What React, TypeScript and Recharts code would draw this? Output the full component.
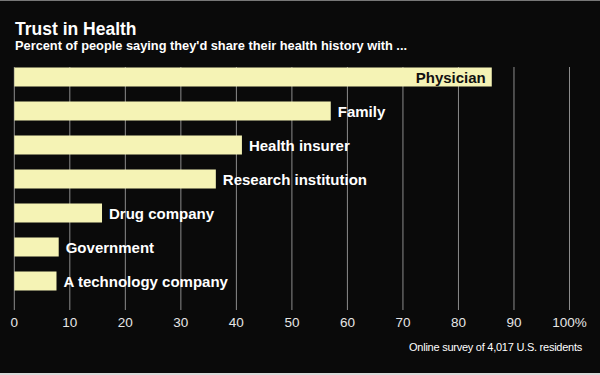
import React from 'react';
import { BarChart, Bar, XAxis, YAxis, CartesianGrid, LabelList } from 'recharts';

const categories = [
  'Physician',
  'Family',
  'Health insurer',
  'Research institution',
  'Drug company',
  'Government',
  'A technology company',
];
const shares = [86, 57, 41, 36.3, 15.8, 8, 7.6];
const xTicks = [0, 10, 20, 30, 40, 50, 60, 70, 80, 90, 100];
const title = 'Trust in Health';
const subtitle = "Percent of people saying they'd share their health history with ...";
const footnote = 'Online survey of 4,017 U.S. residents';

const data = categories.map((name, i) => ({ name, value: shares[i] }));

const FONT = '"Liberation Sans", Arial, Helvetica, sans-serif';
const BG = '#0a0a0a';
const BAR = '#f5f3b5';
const GRID = '#8c8c8c';

const renderGridLine = (props: any) => {
  const { x1, x2, y1, y2, key } = props;
  return (
    <line
      key={key}
      x1={x1}
      x2={x2}
      y1={y1 + 7.5}
      y2={y2 + 12.5}
      stroke={GRID}
      strokeWidth={1}
    />
  );
};

const renderLabel = (props: any) => {
  const { x, y, width, height, index } = props;
  const name = categories[index];
  const inside = shares[index] >= 80;
  return (
    <text
      x={inside ? x + width - 6 : x + width + 7}
      y={y + height / 2}
      dominantBaseline="central"
      textAnchor={inside ? 'end' : 'start'}
      fill={inside ? '#111' : '#ffffff'}
      fontFamily={FONT}
      fontWeight={700}
      fontSize={15}
    >
      {name}
    </text>
  );
};

export default function App() {
  return (
    <div
      style={{
        position: 'absolute',
        left: 0,
        top: 0,
        width: 600,
        height: 375,
        background: BG,
        overflow: 'hidden',
      }}
    >
      <div style={{ position: 'absolute', left: 0, top: 0, width: 600, height: 1, background: '#777' }} />
      <div style={{ position: 'absolute', left: 0, top: 373, width: 600, height: 2, background: '#d9d9d9' }} />
      <BarChart
        width={600}
        height={375}
        data={data}
        layout="vertical"
        margin={{ top: 59.5, right: 30.5, bottom: 47.5, left: 14.3 }}
      >
        <CartesianGrid horizontal={false} vertical={renderGridLine} />
        <XAxis
          type="number"
          domain={[0, 100]}
          ticks={xTicks}
          interval={0}
          height={30}
          axisLine={false}
          tickLine={false}
          tickMargin={14}
          tick={{ fill: '#e6e6e6', fontSize: 13.5, fontFamily: FONT }}
          tickFormatter={(v: number) => (v === 100 ? '100%' : String(v))}
        />
        <YAxis type="category" dataKey="name" hide />
        <Bar dataKey="value" fill={BAR} barSize={19} isAnimationActive={false}>
          <LabelList dataKey="name" content={renderLabel} />
        </Bar>
      </BarChart>
      <svg
        width={600}
        height={375}
        style={{ position: 'absolute', left: 0, top: 0, pointerEvents: 'none' }}
      >
        <text x={15} y={34.5} fill="#ffffff" fontFamily={FONT} fontWeight={700} fontSize={17.5}>
          {title}
        </text>
        <text x={15} y={50} fill="#ffffff" fontFamily={FONT} fontWeight={700} fontSize={12.8}>
          {subtitle}
        </text>
        <text
          x={582}
          y={351}
          fill="#ffffff"
          fontFamily={FONT}
          fontSize={11}
          letterSpacing={-0.25}
          textAnchor="end"
        >
          {footnote}
        </text>
      </svg>
    </div>
  );
}
